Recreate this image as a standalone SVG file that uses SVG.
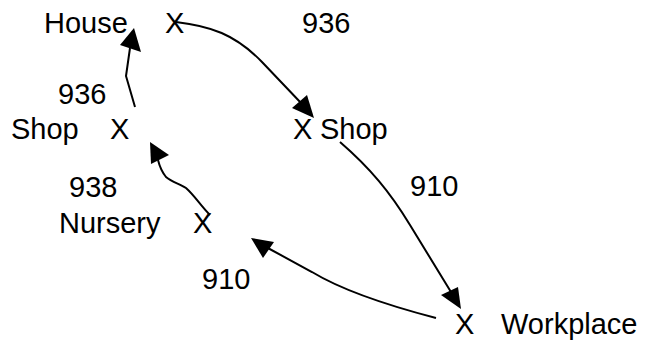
<svg xmlns="http://www.w3.org/2000/svg" width="649" height="340" viewBox="0 0 649 340">
<style>
text{font-family:"Liberation Sans",Arial,sans-serif;font-size:29px;fill:#000}
.c{fill:none;stroke:#000;stroke-width:2}
.h{fill:#000;stroke:none}
</style>
<rect width="649" height="340" fill="#fff"/>
<g id="house"><text x="44" y="33">House</text><text x="165" y="33">X</text></g>
<g id="shopLeft"><text x="11" y="139">Shop</text><text x="110" y="139">X</text></g>
<g id="shopRight"><text x="293" y="139">X</text><text x="320" y="139">Shop</text></g>
<g id="nursery"><text x="59" y="233">Nursery</text><text x="193" y="233">X</text></g>
<g id="workplace"><text x="455" y="334">X</text><text x="501" y="334">Workplace</text></g>
<g id="connectors">
<path class="c" d="M135,107 L126,76 L130,48"/>
<polygon class="h" points="134,28 120,45 141,52"/>
<path class="c" d="M176,22 C210,26 235,34 262,62 L302,104"/>
<polygon class="h" points="314,118 292,108 307,95"/>
<path class="c" d="M210,215 C200,205 195,196 186,188 C180,184 172,182 166,177 C162,172 160,168 158,160"/>
<polygon class="h" points="150,142 151,164 169,155"/>
<path class="c" d="M436,318 C390,306 345,292 312,272 L266,247"/>
<polygon class="h" points="251,238 263,258 274,242"/>
<path class="c" d="M340,142 C370,168 390,192 410,225 L451,292"/>
<polygon class="h" points="461,309 441,295 458,287"/>
</g>
<g id="labels">
<text x="302" y="33">936</text>
<text x="58" y="104">936</text>
<text x="410" y="196">910</text>
<text x="69" y="197">938</text>
<text x="202" y="289">910</text>
</g>
</svg>
